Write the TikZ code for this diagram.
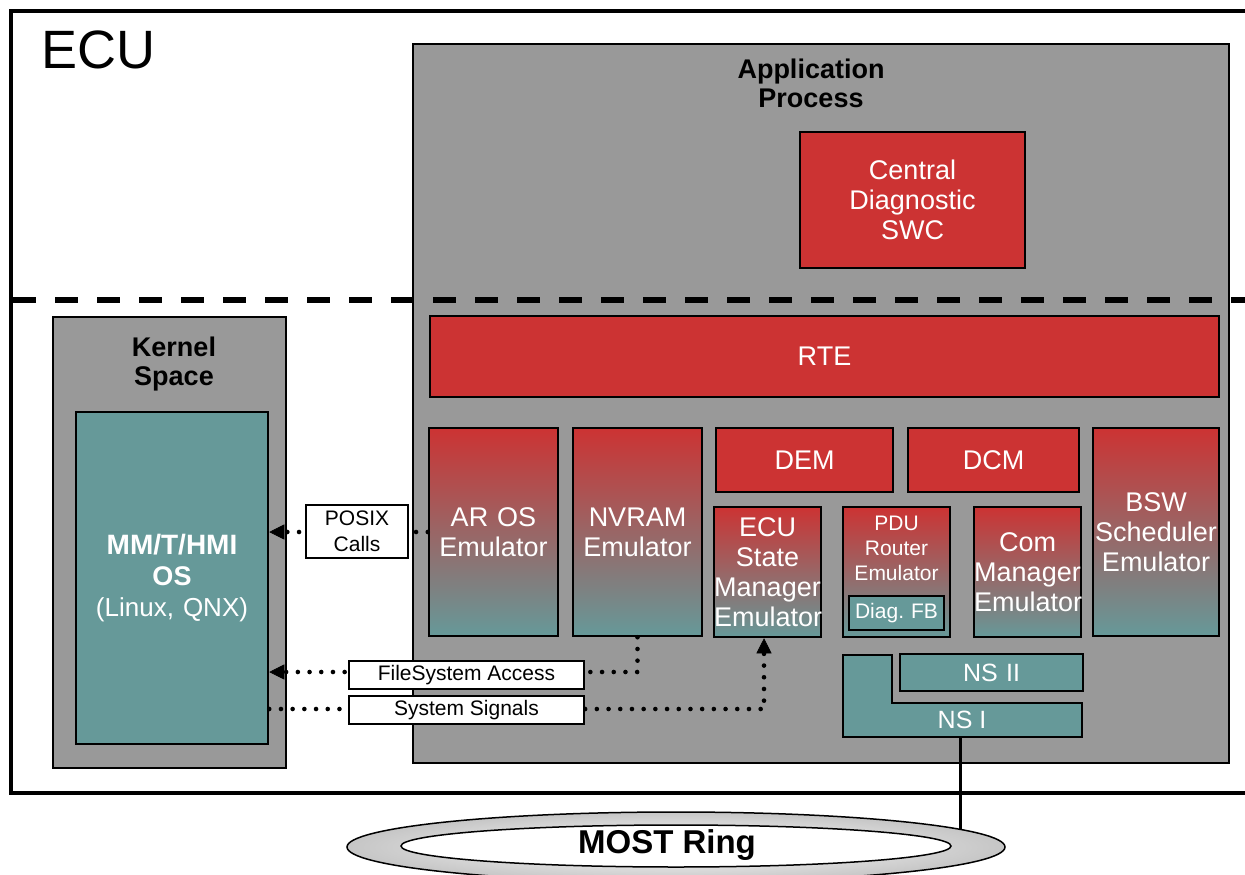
\documentclass[tikz,border=0pt]{standalone}
\usepackage{graphicx}
\usepackage{fontspec}
\setmainfont{Liberation Sans}
\frenchspacing
\usetikzlibrary{arrows.meta,shapes.geometric}
\definecolor{boxred}{HTML}{CC3333}
\definecolor{boxteal}{HTML}{669999}
\definecolor{boxgray}{HTML}{999999}
\newcommand\setfs[2]{\fontsize{#1}{#2}\selectfont}
\tikzset{
  basebox/.style={draw=black, line width=2.5pt, rectangle, inner sep=0pt, align=center},
  graybox/.style={basebox, fill=boxgray},
  redbox/.style={basebox, fill=boxred, text=white, font=\setfs{27}{30}},
  tealbox/.style={basebox, fill=boxteal, text=white, font=\setfs{25}{30}},
  gradbox/.style={basebox, top color=boxred, bottom color=boxteal, text=white, font=\setfs{27}{30}},
  tagbox/.style={basebox, fill=white, line width=1.8pt, font=\setfs{21}{26}},
  sz/.style 2 args={minimum width=#1pt, text width=#1pt, minimum height=#2pt},
  dotline/.style={line width=4.6pt, dash pattern=on 0pt off 11.7pt, line cap=round},
  tipped/.style={-{Triangle[length=15pt,width=15pt,line width=0.5pt]}},
  dashsep/.style={line width=6pt, dash pattern=on 23pt off 19pt},
  plain/.style={inner sep=0pt, align=center},
}
\begin{document}
\begin{tikzpicture}[x=1pt, y=-1pt]
\useasboundingbox (0,0) rectangle (1245,875);
% ECU frame
\node[draw=black, line width=3.5pt, rectangle, inner sep=0pt, minimum width=1289pt, minimum height=782pt] (ecu) at (655.5,402) {};
\node[plain, anchor=base west, font=\setfs{54}{60}] (eculbl) at (41,69) {ECU};
% Application process
\node[graybox, minimum width=816pt, minimum height=719pt] (app) at (821,403.5) {};
\node[plain, font=\bfseries\setfs{27}{29}] (applbl) at (811,83.7) {Application\\Process};
\node[redbox, sz={225}{136}] (cds) at (912.5,200) {Central\\Diagnostic\\SWC};
% separator
\coordinate (sepl) at (13,300);
\coordinate (sepr) at (1265,300);
\draw[dashsep] (sepl) -- (sepr);
% Kernel space
\node[graybox, minimum width=233pt, minimum height=451pt] (kernel) at (169.5,542.5) {};
\node[plain, font=\bfseries\setfs{27}{29}] (kernlbl) at (174,364.4) {Kernel\\Space};
\node[tealbox, sz={192}{332}, font=\setfs{27}{31}] (mm) at (172,578) {\textbf{\fontsize{28}{31}\selectfont MM/T/HMI}\\\textbf{OS}\\{\fontsize{26}{31}\selectfont(Linux, QNX)}};
% RTE
\node[redbox, sz={789}{81}] (rte) at (824.5,356.5) {RTE};
% BSW row
\node[gradbox, sz={129}{208}] (aros) at (493.5,532) {AR OS\\Emulator};
\node[gradbox, sz={129}{208}] (nvram) at (637.5,532) {NVRAM\\Emulator};
\node[redbox, sz={177}{64}] (dem) at (804.5,460) {DEM};
\node[redbox, sz={171}{64}] (dcm) at (993.5,460) {DCM};
\node[gradbox, sz={126}{208}] (bsw) at (1156,532) {BSW\\Scheduler\\Emulator};
\node[gradbox, sz={107}{130}] (ecusm) at (767.5,572) {ECU\\State\\Manager\\Emulator};
\node[gradbox, sz={107}{130}] (pdu) at (896.5,572) {};
\node[plain, text=white, font=\setfs{21}{25}] (pdulbl) at (896.5,548) {PDU\\Router\\Emulator};
\node[tealbox, sz={95}{34}, font=\setfs{21}{25}] (diagfb) at (896.5,613) {Diag. FB};
\node[gradbox, sz={107}{130}] (com) at (1027.5,572) {Com\\Manager\\Emulator};
% Network services
\node[tealbox, sz={183}{37}] (ns2) at (991.5,672.5) {NS II};
\draw[line width=2.5pt, fill=boxteal] (843,655) -- (892,655) -- (892,703) -- (1082,703) -- (1082,737) -- (843,737) -- cycle;
\node[plain, text=white, font=\setfs{25}{30}] (ns1) at (962,720) {NS I};
% dotted connectors
\draw[dotline, tipped] (aros.west) -- (aros.west -| mm.east);
\coordinate (fsbend) at (nvram.south |- 0,672);
\draw[dotline, tipped] (nvram.south) -- (fsbend) -- (fsbend -| mm.east);
\coordinate (ssbend) at (764,709);
\draw[dotline, tipped] (ssbend -| mm.east) -- (ssbend) -- (ssbend |- ecusm.south);
\node[tagbox, minimum width=102pt, minimum height=53pt] (posix) at (357,531.5) {POSIX\\Calls};
\node[tagbox, minimum width=235pt, minimum height=28pt] (fsa) at (466.5,675) {FileSystem Access};
\node[tagbox, minimum width=235pt, minimum height=28pt] (sys) at (466.5,710) {System Signals};
% MOST ring
\coordinate (nsbot) at (960,737);
\coordinate (ringc) at (676,847);
\draw[line width=3pt] (nsbot) -- (nsbot |- ringc);
\node[ellipse, draw=black, line width=1.5pt, inner sep=0pt, inner color=white, outer color=gray!45, minimum width=658pt, minimum height=70pt] (ring) at (ringc) {};
\node[ellipse, draw=black, line width=1.5pt, inner sep=0pt, fill=white, minimum width=550pt, minimum height=42pt] (ringin) at (676,846) {};
\node[plain, font=\bfseries\setfs{33}{36}] (ringlbl) at (667,845.5) {MOST Ring};
\end{tikzpicture}
\end{document}
